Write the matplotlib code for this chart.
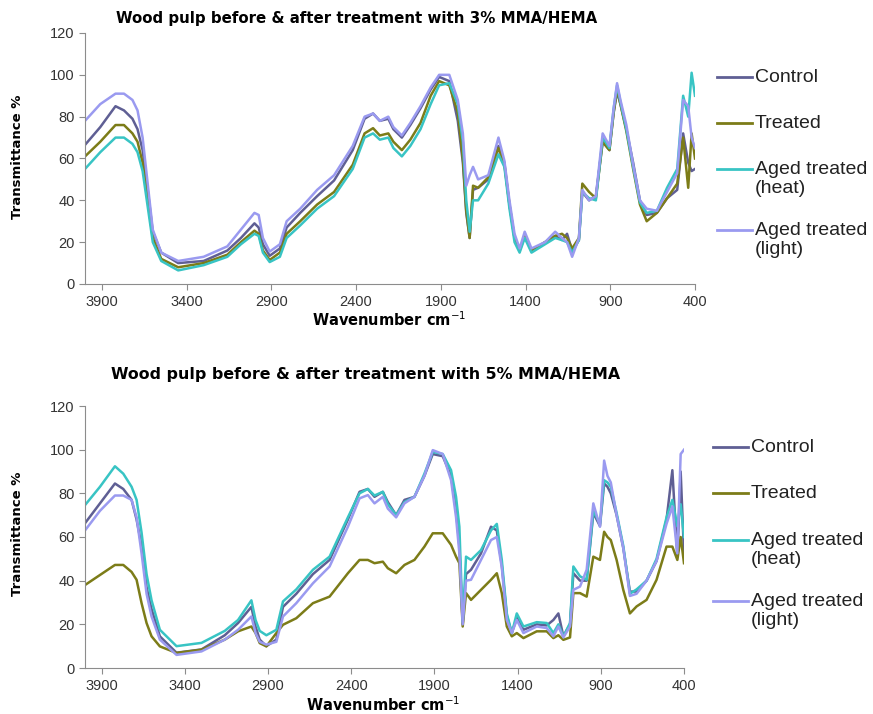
import matplotlib
matplotlib.use("Agg")
import matplotlib.pyplot as plt
from matplotlib.lines import Line2D

# shared wavenumber grid (cm-1)
wavenumber = [4000, 3910, 3820, 3770, 3720, 3690, 3660, 3630, 3600, 3550,
              3450, 3300, 3160, 3080, 3000, 2975, 2950, 2910, 2850, 2810,
              2730, 2630, 2530, 2420, 2350, 2300, 2260, 2210, 2180, 2130,
              2080, 2020, 1960, 1910, 1850, 1800, 1770, 1750, 1730, 1710,
              1680, 1620, 1560, 1525, 1495, 1465, 1435, 1405, 1365, 1285,
              1225, 1185, 1155, 1125, 1085, 1065, 1025, 985, 945, 905,
              880, 860, 840, 805, 765, 725, 685, 625, 565, 505,
              470, 440, 420, 400]

# 3% MMA/HEMA
control_3 = [66.5, 75, 85, 83, 79, 74, 64, 45, 25, 15,
             10, 11, 16, 22, 29, 27, 19, 13.5, 17, 27,
             34, 42, 49.5, 64, 79, 81.5, 78, 79, 74, 70,
             76, 84, 93, 99, 97, 78, 58, 34, 22, 45,
             46, 50, 66, 58, 38, 22, 16, 23, 16, 20,
             23, 21, 24, 16, 21, 44, 40, 42, 68, 64,
             82, 92, 86, 74, 58, 40, 33, 34, 41, 45,
             72, 58, 54, 55]
treated_3 = [61, 68, 76, 76, 72, 68, 58, 40, 22, 12,
             8, 10, 14, 20, 25.5, 24, 16, 11.5, 15, 24,
             30, 38, 44, 57, 72, 74.5, 71, 72, 68, 64,
             69, 77, 90, 97, 95, 82, 60, 35, 22, 47,
             46, 51, 65, 57, 38, 22, 16, 23, 16, 20,
             23, 24, 22, 17, 22, 48, 44, 41, 68, 64,
             82, 93, 86, 73, 55, 38, 30, 34, 41, 48,
             70, 46, 72, 60]
heat_3 = [55, 63, 70, 70, 67, 63, 54, 37, 20, 11,
          6.5, 9, 13, 19, 24, 23, 15, 10.5, 13, 22,
          28, 36, 42, 55, 70, 72, 69, 70, 65, 61,
          66, 74, 86, 95, 96, 86, 68, 40, 25, 40,
          40, 48, 62, 56, 36, 20, 15, 22, 15, 19,
          22, 21, 20, 15, 21, 44, 41, 40, 70, 65,
          84, 95, 87, 74, 56, 39, 34, 35, 46, 55,
          90, 80, 101, 90]
light_3 = [78, 86, 91, 91, 88, 83, 70, 48, 26, 15,
           11, 13, 18, 26, 34, 33, 22, 15.5, 19, 30,
           36, 45, 52, 66, 80, 81.5, 78, 80, 75, 71,
           77, 85, 94, 100, 100, 88, 72, 47, 52, 56,
           50, 52, 70, 59, 40, 24, 17, 25, 17, 20,
           25, 22, 20, 13, 22, 45, 40, 42, 72, 66,
           84, 96, 88, 76, 57, 40, 36, 35, 44, 53,
           88, 85, 70, 65]

# 5% MMA/HEMA
control_5 = [66.3, 75.4, 84.5, 82, 77, 68, 56, 37, 27, 14.5,
             7, 8.5, 15, 20.6, 28, 19, 13, 10, 13, 28,
             34, 43, 49.5, 68, 80.7, 82, 78.4, 80.7, 76, 70,
             77, 78.4, 88, 98, 97, 88, 72, 56, 20, 43,
             45, 52.5, 64.7, 63, 47, 24, 16, 23, 17.5, 20,
             19.5, 22, 25, 14.5, 20, 43.4, 40, 40, 71, 65,
             84.5, 83, 80, 70, 55, 35, 35, 40, 49, 68,
             90.6, 51, 90, 52]
treated_5 = [38, 42.6, 47.2, 47.2, 44, 40.4, 29.7, 20.6, 14.5, 9.9,
             6.9, 8.4, 13, 16.8, 19, 16, 11.4, 9.9, 16, 19.8,
             22.8, 29.7, 32.7, 43.4, 49.5, 49.5, 48, 48.7, 45.7, 43.4,
             47.2, 49.5, 55.6, 61.7, 61.7, 56.4, 51, 48, 19, 34.3,
             31.2, 35.8, 40.4, 43.4, 34.3, 19, 14.5, 16, 13.7, 16.8,
             16.8, 13.7, 15, 12.9, 14, 34.3, 34.3, 32.7, 51, 49.5,
             62.4, 60, 58.6, 49.5, 35.8, 25, 28.2, 31.2, 40.4, 55.6,
             55.6, 49.5, 60, 48]
heat_5 = [74.6, 83, 92.4, 89, 83, 77, 62, 43, 31, 17.5,
          10, 11.5, 17, 22, 31, 22, 17, 15, 17.5, 30.5,
          36, 45, 51, 69, 80, 82, 79, 80.7, 75, 70,
          76, 78.4, 89, 99, 98, 90.6, 78.4, 64.7, 21, 51,
          49.5, 54, 63, 66, 49.5, 25, 16, 25, 19, 21,
          20.6, 16, 20, 14.5, 20.6, 46.5, 42, 40.4, 72, 66,
          86, 85, 83, 71, 56, 34, 36, 40, 50, 69,
          77, 65, 75, 60]
light_5 = [63, 72, 79, 79, 77, 69, 52.5, 34, 23.6, 13,
           6, 7.6, 13, 17.5, 23.6, 16, 12, 10.7, 12, 23.6,
           29.7, 38.8, 46.5, 64.7, 77.7, 79.2, 75.4, 78.4, 73, 69,
           75.4, 78.4, 88, 99.8, 98, 86, 69, 52.5, 20, 40,
           40.4, 49.5, 58.6, 60, 46, 22, 16, 22, 16, 19,
           18.3, 14.5, 19, 14, 19, 35.8, 37.3, 45, 75.4, 64.7,
           95, 88, 85, 70, 55, 33, 34, 40, 49, 66,
           74, 52.5, 98, 100]

labels = ["Control", "Treated", "Aged treated\n(heat)", "Aged treated\n(light)"]
colors = ["#5f5f94", "#7c7c18", "#38c4c4", "#9a9af0"]
x_ticks = [3900, 3400, 2900, 2400, 1900, 1400, 900, 400]
y_ticks = [0, 20, 40, 60, 80, 100, 120]

plt.rcParams['font.family'] = ['Liberation Sans', 'DejaVu Sans']

fig = plt.figure(figsize=(8.73, 7.14), dpi=100)
W, H = 873.0, 714.0

# axes box (px), series, title, title pos, label pos, legend layout
panels = [
    dict(box=[85, 33, 695, 284], series=[control_3, treated_3, heat_3, light_3],
         title="Wood pulp before & after treatment with 3% MMA/HEMA", tsize=10.8,
         tpos=(357, 18), xl=(389, 320), yl=157,
         leg_x=717, leg_y=[77, 123, 169, 230]),
    dict(box=[85, 406, 684, 668], series=[control_5, treated_5, heat_5, light_5],
         title="Wood pulp before & after treatment with 5% MMA/HEMA", tsize=11.4,
         tpos=(366, 375), xl=(383, 705), yl=534,
         leg_x=713, leg_y=[447, 493, 540, 601]),
]

for p in panels:
    l, t, r, b = p["box"]
    ax = fig.add_axes([l / W, 1 - b / H, (r - l) / W, (b - t) / H])
    for vals, lab, col in zip(p["series"], labels, colors):
        ax.plot(wavenumber, vals, color=col, lw=1.8, label=lab)
    ax.set_xlim(4000, 400)
    ax.set_ylim(0, 120)
    ax.set_xticks(x_ticks)
    ax.set_yticks(y_ticks)
    for s in ["top", "right"]:
        ax.spines[s].set_visible(False)
    for s in ["left", "bottom"]:
        ax.spines[s].set_color("#8c8c8c")
    ax.tick_params(axis="both", colors="#8c8c8c", labelcolor="#333333",
                   labelsize=10.5, length=4, direction="out")
    ax.tick_params(axis="x", pad=4)

    # legend drawn by hand so the handle sits on the first text line
    lx = p["leg_x"]
    for lab, col, ly in zip(labels, colors, p["leg_y"]):
        fig.add_artist(Line2D([lx / W, (lx + 35) / W], [1 - ly / H, 1 - ly / H],
                              color=col, lw=2, transform=fig.transFigure))
        fig.text((lx + 38) / W, 1 - (ly - 8) / H, lab, ha="left", va="top",
                 fontsize=14, linespacing=1.12, color="#222222")

    tx, ty = p["tpos"]
    fig.text(tx / W, 1 - ty / H, p["title"], ha="center", va="center",
             fontsize=p["tsize"], fontweight="bold", family="DejaVu Sans")
    fig.text(p["xl"][0] / W, 1 - p["xl"][1] / H, "Wavenumber cm$^{-1}$",
             ha="center", va="center", fontsize=10.5, fontweight="bold",
             family="DejaVu Sans")
    fig.text(18 / W, 1 - p["yl"] / H, "Transmittance %", ha="center", va="center",
             rotation=90, fontsize=9.5, fontweight="bold", family="DejaVu Sans")

fig.savefig("out.png", dpi=100)
